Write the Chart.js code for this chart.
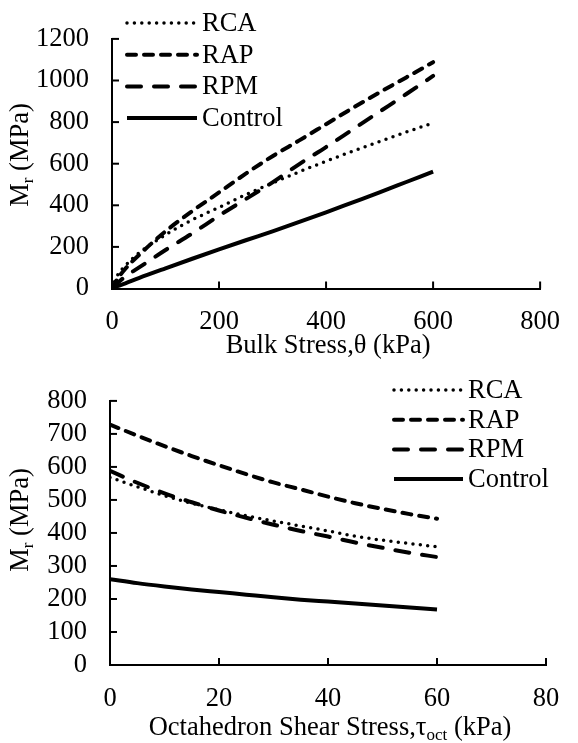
<!DOCTYPE html>
<html>
<head>
<meta charset="utf-8">
<script src="https://cdn.jsdelivr.net/npm/chart.js@4"></script>
<style>
  html, body { margin: 0; padding: 0; background: #fff; }
  #wrap { position: relative; width: 578px; height: 743px; overflow: hidden; }
  canvas { position: absolute; left: 0; }
  #bulkChart { top: 0; }
  #shearChart { top: 362px; }
</style>
</head>
<body>
<div id="wrap">
  <canvas id="bulkChart" width="578" height="362"></canvas>
  <canvas id="shearChart" width="578" height="381"></canvas>
</div>
<script>
// === Data: Mr vs bulk stress (kPa) ===
const bulkStress = [0, 10, 25, 50, 100, 150, 200, 250, 300, 350, 400, 450, 500, 550, 600];
const bulkRCA = [0, 62, 110, 170, 258, 330, 390, 451, 507, 561, 612, 660, 707, 752, 796];
const bulkRAP = [0, 45, 95, 160, 275, 372, 462, 552, 636, 712, 790, 868, 943, 1015, 1088];
const bulkRPM = [0, 25, 58, 100, 185, 265, 350, 430, 510, 598, 680, 765, 850, 935, 1022];
const bulkControl = [0, 11, 25, 50, 97, 143, 188, 232, 275, 320, 366, 414, 462, 512, 562];

// === Data: Mr vs octahedral shear stress (kPa) ===
const shearStress = [0, 5, 10, 15, 20, 25, 30, 35, 40, 45, 50, 55, 60];
const shearRCA = [568, 540, 513, 490, 470, 452, 436, 421, 406, 390, 378, 368, 358];
const shearRAP = [728, 695, 663, 633, 605, 578, 553, 532, 510, 490, 473, 457, 443];
const shearRPM = [588, 552, 520, 493, 468, 446, 425, 406, 389, 371, 355, 340, 327];
const shearControl = [260, 248, 238, 229, 221, 213, 205, 198, 192, 186, 180, 174, 168];

const seriesNames = ["RCA", "RAP", "RPM", "Control"];
const bulkTicks = { min: 0, max: 800, step: 200 };
const bulkYTicks = { min: 0, max: 1200, step: 200 };
const shearTicks = { min: 0, max: 80, step: 20 };
const shearYTicks = { min: 0, max: 800, step: 100 };

const FONT = "'Liberation Serif', 'Times New Roman', serif";
const FONT_SIZE = 26.5;
Chart.defaults.font.family = FONT;
Chart.defaults.font.size = FONT_SIZE;
Chart.defaults.color = "#000";

// === Helper: line style for each material ===
function lineStyle(name) {
  const base = { borderColor: "#000", borderWidth: 4, pointRadius: 0, fill: false,
    cubicInterpolationMode: "monotone" };
  if (name === "RCA")
    return { ...base, borderWidth: 3.5, borderDash: [0, 7.4], borderCapStyle: "round" };
  if (name === "RAP") return { ...base, borderDash: [9, 8], borderCapStyle: "round" };
  if (name === "RPM") return { ...base, borderDash: [14, 13], borderCapStyle: "round" };
  return { ...base, borderDash: [], borderCapStyle: "butt" };
}

function makeDatasets(xs, lists) {
  return seriesNames.map((name, i) => ({
    label: name,
    data: xs.map((x, j) => ({ x: x, y: lists[i][j] })),
    ...lineStyle(name),
  }));
}

// === Helper: text with subscripts ===
function drawRich(ctx, parts, x, y, align) {
  const big = FONT_SIZE + "px " + FONT;
  const small = "17px " + FONT;
  let width = 0;
  parts.forEach((p) => {
    ctx.font = p.sub ? small : big;
    width += ctx.measureText(p.t).width;
  });
  let cx = align === "center" ? x - width / 2 : x;
  ctx.textAlign = "left";
  ctx.textBaseline = "alphabetic";
  parts.forEach((p) => {
    ctx.font = p.sub ? small : big;
    ctx.fillText(p.t, cx, p.sub ? y + 5 : y);
    cx += ctx.measureText(p.t).width;
  });
}

// === Plugin: inward ticks, legend and axis titles ===
const axisDecor = {
  id: "axisDecor",
  afterDraw(chart, args, o) {
    const { ctx, chartArea, scales } = chart;
    ctx.save();
    ctx.strokeStyle = "#000";
    ctx.fillStyle = "#000";
    ctx.lineWidth = 2;
    ctx.setLineDash([]);
    scales.x.ticks.forEach((t) => {
      if (t.value === 0) return;
      const px = scales.x.getPixelForValue(t.value);
      ctx.beginPath();
      ctx.moveTo(px, chartArea.bottom);
      ctx.lineTo(px, chartArea.bottom - 7);
      ctx.stroke();
    });
    scales.y.ticks.forEach((t) => {
      if (t.value === 0) return;
      const py = scales.y.getPixelForValue(t.value);
      ctx.beginPath();
      ctx.moveTo(chartArea.left, py);
      ctx.lineTo(chartArea.left + 7, py);
      ctx.stroke();
    });

    // legend
    chart.data.datasets.forEach((ds, i) => {
      const y = o.legendY + i * o.legendGap;
      ctx.beginPath();
      ctx.lineWidth = ds.borderWidth;
      ctx.lineCap = ds.borderCapStyle;
      ctx.setLineDash(ds.borderDash);
      ctx.moveTo(o.legendX, y);
      ctx.lineTo(o.legendX + o.legendLen, y);
      ctx.stroke();
      ctx.setLineDash([]);
      ctx.font = FONT_SIZE + "px " + FONT;
      ctx.textAlign = "left";
      ctx.textBaseline = "middle";
      ctx.fillText(ds.label, o.legendX + o.legendLen + 5, y + 1);
    });

    // axis titles
    drawRich(ctx, o.xTitle, (chartArea.left + chartArea.right) / 2 + 2, o.xTitleY, "center");
    ctx.translate(o.yTitleX, o.yTitleY);
    ctx.rotate(-Math.PI / 2);
    drawRich(ctx, o.yTitle, 0, 0, "center");
    ctx.restore();
  },
};

function makeChart(id, xs, lists, xt, yt, yWidth, xHeight, pad, decor) {
  const ctx = document.getElementById(id).getContext("2d");
  return new Chart(ctx, {
    type: "line",
    data: { datasets: makeDatasets(xs, lists) },
    plugins: [axisDecor],
    options: {
      responsive: false,
      animation: false,
      layout: { padding: pad },
      plugins: { legend: { display: false }, tooltip: { enabled: false }, axisDecor: decor },
      scales: {
        x: {
          type: "linear", min: xt.min, max: xt.max,
          afterFit(s) { s.height = xHeight; },
          ticks: { stepSize: xt.step, padding: 18, maxRotation: 0, autoSkip: false,
            callback: (v) => String(v) },
          grid: { drawOnChartArea: false, drawTicks: false },
          border: { display: true, color: "#000", width: 2 },
        },
        y: {
          min: yt.min, max: yt.max,
          afterFit(s) { s.width = yWidth; },
          ticks: { stepSize: yt.step, padding: 23, autoSkip: false,
            callback: (v) => String(v) },
          grid: { drawOnChartArea: false, drawTicks: false },
          border: { display: true, color: "#000", width: 2 },
        },
      },
    },
  });
}

window.onload = function () {
  makeChart("bulkChart", bulkStress, [bulkRCA, bulkRAP, bulkRPM, bulkControl],
    bulkTicks, bulkYTicks, 112, 73.5, { top: 19.4, right: 22, left: 0, bottom: 0 }, {
      legendX: 127, legendY: 23, legendGap: 31.7, legendLen: 70,
      xTitle: [{ t: "Bulk Stress,θ (kPa)" }], xTitleY: 353,
      yTitle: [{ t: "M" }, { t: "r", sub: true }, { t: " (MPa)" }], yTitleX: 28, yTitleY: 155,
    });
  makeChart("shearChart", shearStress, [shearRCA, shearRAP, shearRPM, shearControl],
    shearTicks, shearYTicks, 110, 78, { top: 20.7, right: 32, left: 0, bottom: 0 }, {
      legendX: 394, legendY: 28, legendGap: 29.7, legendLen: 69,
      xTitle: [{ t: "Octahedron Shear Stress,τ" }, { t: "oct", sub: true }, { t: " (kPa)" }],
      xTitleY: 373,
      yTitle: [{ t: "M" }, { t: "r", sub: true }, { t: " (MPa)" }], yTitleX: 28, yTitleY: 158,
    });
};
</script>
</body>
</html>
